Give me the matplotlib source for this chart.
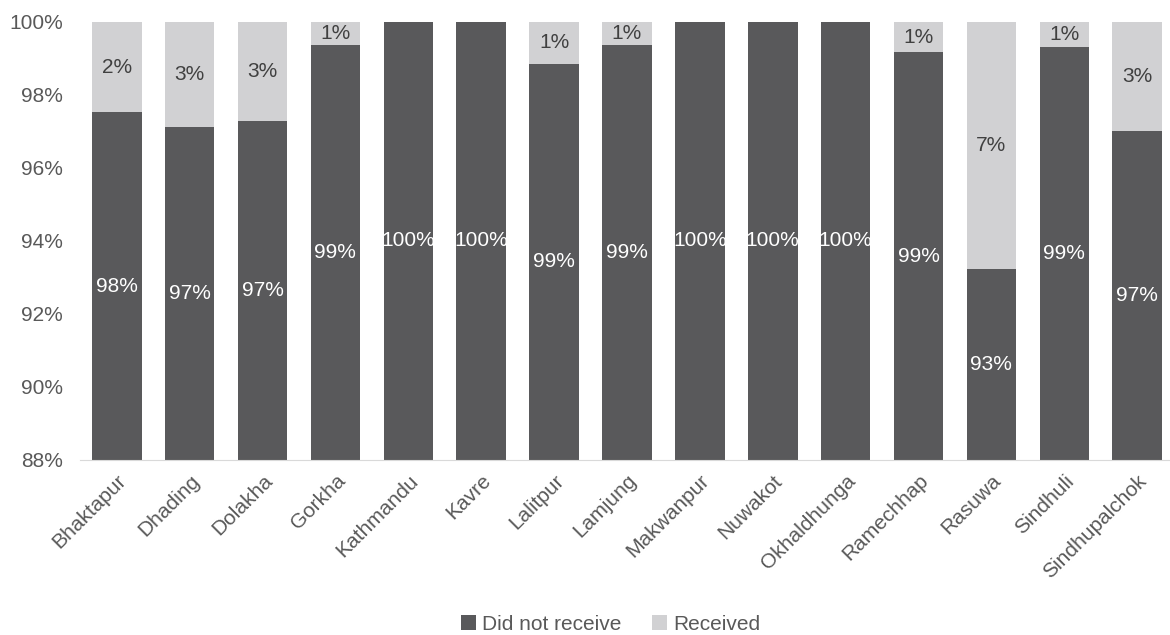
import matplotlib.pyplot as plt
from matplotlib.ticker import FuncFormatter

districts = ["Bhaktapur", "Dhading", "Dolakha", "Gorkha", "Kathmandu", "Kavre",
             "Lalitpur", "Lamjung", "Makwanpur", "Nuwakot", "Okhaldhunga",
             "Ramechhap", "Rasuwa", "Sindhuli", "Sindhupalchok"]
did_not_receive = [97.53, 97.13, 97.30, 99.37, 100.0, 100.0, 98.85, 99.37,
                   100.0, 100.0, 100.0, 99.17, 93.23, 99.31, 97.02]
received = [100 - v for v in did_not_receive]

plt.rcParams["font.family"] = ["Liberation Sans", "DejaVu Sans"]

dark = "#59595b"
light = "#d1d1d3"
text_col = "#595959"
base = 88

fig = plt.figure(figsize=(11.7, 6.35), dpi=100)
ax = fig.add_axes([0.068, 0.2756, 0.932, 0.6898])

x = range(len(districts))
width = 0.68
bars1 = ax.bar(x, [v - base for v in did_not_receive], width, bottom=base,
               color=dark, label="Did not receive")
bars2 = ax.bar(x, received, width, bottom=did_not_receive,
               color=light, label="Received")

for i, v in enumerate(did_not_receive):
    ax.text(i, (base + v) / 2, f"{round(v):.0f}%", ha="center", va="center",
            color="white", fontsize=15)
    r = received[i]
    if r > 0.3:
        ax.text(i, v + r / 2, f"{round(r):.0f}%", ha="center", va="center",
                color="#404040", fontsize=15)

ax.set_ylim(base, 100)
ax.set_xlim(-0.51, 14.45)
ax.set_yticks(range(88, 101, 2))
ax.yaxis.set_major_formatter(FuncFormatter(lambda v, p: f"{v:.0f}%"))
ax.set_xticks(list(x))
ax.set_xticklabels(districts, rotation=45, ha="right", rotation_mode="anchor")
ax.tick_params(axis="both", length=0, colors=text_col, labelsize=15)
ax.tick_params(axis="x", pad=8)
ax.tick_params(axis="y", pad=12)
for s in ["top", "right", "left"]:
    ax.spines[s].set_visible(False)
ax.spines["bottom"].set_color("#d9d9d9")

fig.legend(handles=[bars1, bars2], loc="lower center", ncol=2, frameon=False,
           bbox_to_anchor=(0.522, -0.028), fontsize=15, handlelength=0.7,
           handleheight=0.7, handletextpad=0.3, columnspacing=1.5,
           labelcolor=text_col)

fig.savefig("out.png", dpi=100)
